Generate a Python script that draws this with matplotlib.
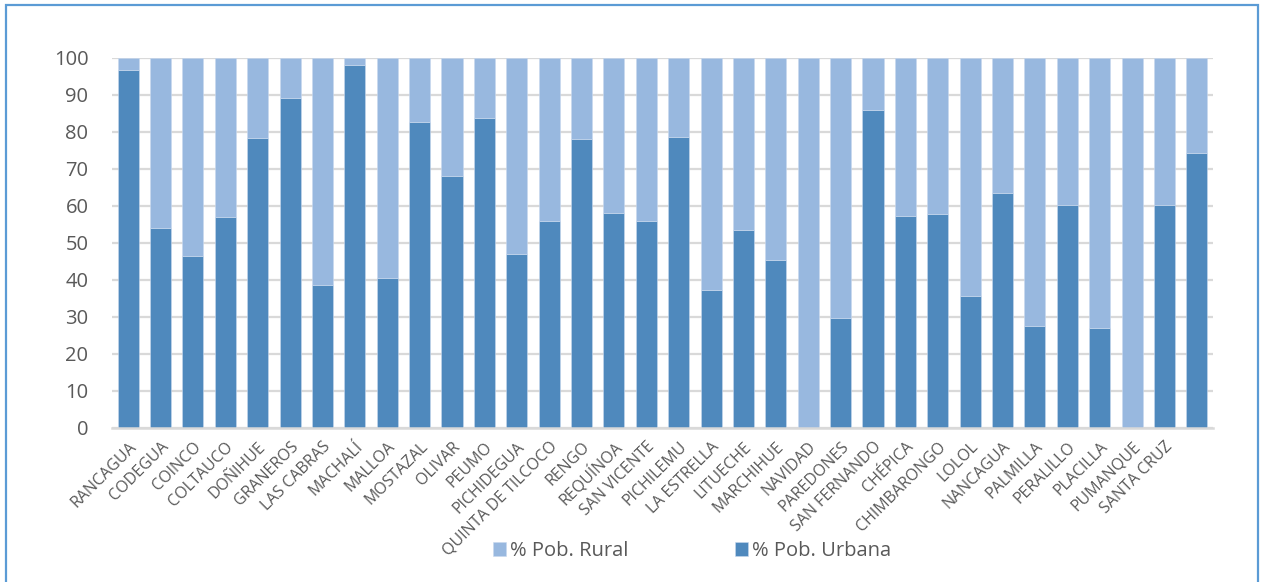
import matplotlib
matplotlib.use("Agg")
import matplotlib.pyplot as plt
from matplotlib.patches import Rectangle
import numpy as np

comunas = ["RANCAGUA", "CODEGUA", "COINCO", "COLTAUCO", "DOÑIHUE", "GRANEROS",
           "LAS CABRAS", "MACHALÍ", "MALLOA", "MOSTAZAL", "OLIVAR", "PEUMO",
           "PICHIDEGUA", "QUINTA DE TILCOCO", "RENGO", "REQUÍNOA", "SAN VICENTE",
           "PICHILEMU", "LA ESTRELLA", "LITUECHE", "MARCHIHUE", "NAVIDAD",
           "PAREDONES", "SAN FERNANDO", "CHÉPICA", "CHIMBARONGO", "LOLOL",
           "NANCAGUA", "PALMILLA", "PERALILLO", "PLACILLA", "PUMANQUE",
           "SANTA CRUZ", ""]

pct_urbana = [96.8, 53.9, 46.4, 57.0, 78.4, 89.0, 38.7, 97.9, 40.5, 82.5,
              68.1, 83.7, 47.0, 55.9, 77.9, 58.1, 55.9, 78.6, 37.1, 53.4,
              45.4, 0.0, 29.6, 85.9, 57.3, 57.8, 35.6, 63.4, 27.6, 60.2,
              27.0, 0.0, 60.2, 74.2]

pct_rural = [100 - u for u in pct_urbana]

title = "Gráfico 3: Población urbana y rural según comuna, por porcentaje, Región de O'Higgins"

c_urb = "#4f89bd"
c_rur = "#98b8df"
txt = "#595959"
font = "Open Sans"

W, H = 1261, 582
fig = plt.figure(figsize=(W / 100, H / 100), dpi=100)

# outer frame
fig.patches.append(Rectangle((5.5 / W, -0.05), (1258 - 5.5) / W, 1 - 4.5 / H + 0.05,
                             transform=fig.transFigure, fill=False,
                             edgecolor="#5b9bd5", linewidth=1.6))

# title, mostly cut off at the very top as in the reference
fig.text(0.0, 1 + 5.0 / H, title, fontsize=12, fontweight="bold", family=font,
         color="#1f1f1f", ha="left", va="baseline")

ax = fig.add_axes([112 / W, 1 - 427.7 / H, (1213 - 112) / W, (427.7 - 57.7) / H])

x = np.arange(len(comunas))
ax.bar(x, pct_urbana, width=0.65, color=c_urb, edgecolor="#c9d9ee", linewidth=0.4,
       label="% Pob. Urbana", zorder=3)
ax.bar(x, pct_rural, width=0.65, bottom=pct_urbana, color=c_rur, edgecolor="#c9d9ee",
       linewidth=0.4, label="% Pob. Rural", zorder=3)

ax.set_xlim(-0.5, len(comunas) - 0.5)
ax.set_ylim(0, 100)
ax.set_yticks(np.arange(0, 101, 10))
ax.yaxis.grid(True, color="#d9d9d9", linewidth=1.6, zorder=0)
ax.set_axisbelow(True)
for s in ["top", "right", "left"]:
    ax.spines[s].set_visible(False)
ax.spines["bottom"].set_color("#d9d9d9")
ax.spines["bottom"].set_linewidth(1.8)
ax.spines["bottom"].set_zorder(4)

ax.tick_params(axis="y", length=0, pad=17, labelsize=14.5, labelcolor=txt)
ax.tick_params(axis="x", length=0, pad=8)
for lab in ax.get_yticklabels():
    lab.set_family(font)

ax.set_xticks(x)
ax.set_xticklabels(comunas, rotation=45, ha="right", va="top",
                   rotation_mode="anchor", fontsize=11.5, color=txt, family=font)

handles, labels = ax.get_legend_handles_labels()
leg = fig.legend(handles[::-1], labels[::-1], loc="center", ncol=2,
                 bbox_to_anchor=(692 / W, 1 - 551 / H), frameon=False,
                 prop={"family": font, "size": 14.5}, labelcolor=txt,
                 handlelength=0.65, handleheight=0.65, handletextpad=0.2,
                 columnspacing=5.3)

fig.savefig("out.png", dpi=100)
